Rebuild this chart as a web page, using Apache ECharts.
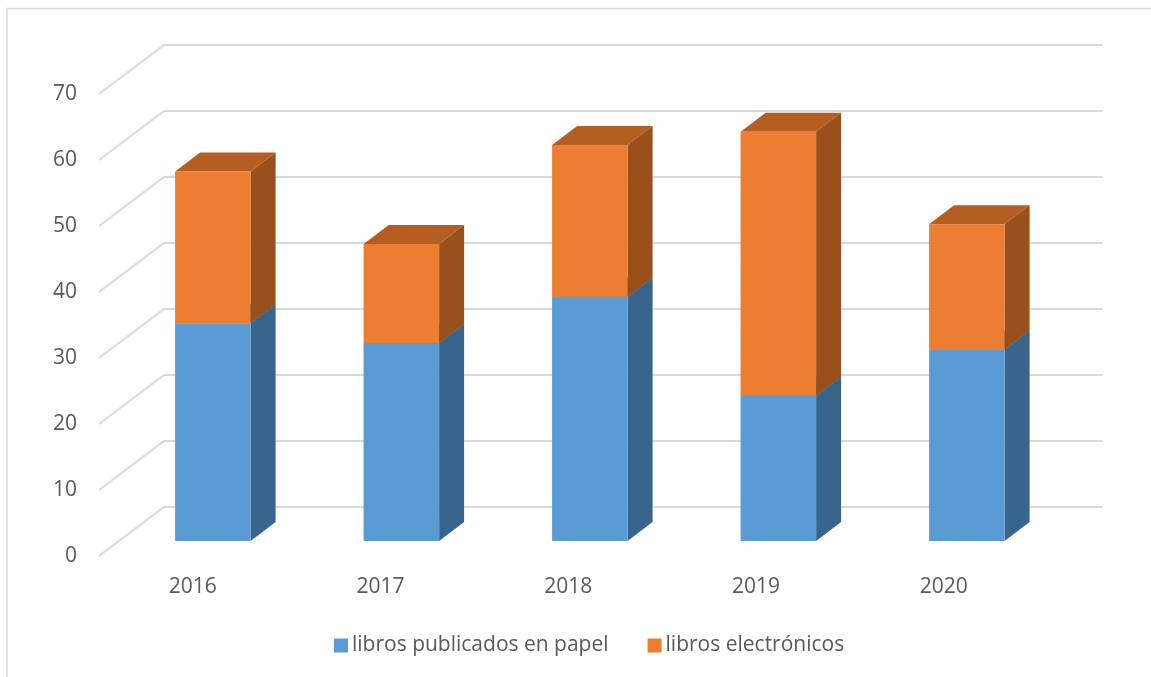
<!DOCTYPE html>
<html>
<head>
<meta charset="utf-8">
<style>html,body{margin:0;padding:0;background:#fff}#c{width:1151px;height:677px}</style>
<script src="https://cdn.jsdelivr.net/npm/echarts@6/dist/echarts.min.js"></script>
</head>
<body>
<div id="c"></div>
<script>
var years = ['2016', '2017', '2018', '2019', '2020'];
var papel = [33, 30, 37, 22, 29];
var electronicos = [23, 15, 23, 40, 19];
var ticks = [0, 10, 20, 30, 40, 50, 60, 70];
var nameA = 'libros publicados en papel';
var nameB = 'libros electrónicos';

var FONT = '"Open Sans", sans-serif';
var WALL = [65, -49], FRONT = [20, -15], DEPTH = [25, -19], BAR_W = 75.5, PERSPECTIVE = 0.8;

function barRenderer(front, top, side) {
  return function (params, api) {
    var cat = api.value(0), lo = api.coord([cat, api.value(1)]), hi = api.coord([cat, api.value(2)]);
    var x0 = lo[0] + FRONT[0] - BAR_W / 2 + cat * PERSPECTIVE, x1 = x0 + BAR_W;
    var yb = lo[1] + FRONT[1], yt = hi[1] + FRONT[1];
    var dx = DEPTH[0], dy = DEPTH[1];
    return { type: 'group', children: [
      { type: 'polygon', shape: { points: [[x0, yt], [x1, yt], [x1 + dx, yt + dy], [x0 + dx, yt + dy]] }, style: { fill: top } },
      { type: 'polygon', shape: { points: [[x1, yb], [x1 + dx, yb + dy], [x1 + dx, yt + dy], [x1, yt]] }, style: { fill: side } },
      { type: 'rect', shape: { x: x0, y: yt, width: BAR_W, height: yb - yt }, style: { fill: front } }
    ] };
  };
}

var stackA = years.map(function (y, i) { return [i, 0, papel[i]]; });
var stackB = years.map(function (y, i) { return [i, papel[i], papel[i] + electronicos[i]]; });

var chart = echarts.init(document.getElementById('c'), null, { renderer: 'canvas' });
chart.setOption({
  animation: false,
  backgroundColor: '#fff',
  textStyle: { fontFamily: FONT },
  graphic: [
    { type: 'polyline', z: -1, shape: { points: [[7, 677], [7, 8.5], [1151, 8.5]] }, style: { stroke: '#D9D9D9', lineWidth: 1.5, fill: null } }
  ],
  grid: { left: 99, right: 113.5, top: 94, bottom: 121, containLabel: false },
  legend: {
    data: [nameA, nameB],
    left: 329, top: 630, icon: 'rect', itemWidth: 14, itemHeight: 14, itemGap: 39,
    textStyle: { color: '#595959', fontSize: 21, fontFamily: FONT, padding: [0, 0, 0, -1] }
  },
  xAxis: {
    type: 'category', data: years,
    axisLine: { show: false }, axisTick: { show: false }, splitLine: { show: false },
    axisLabel: { color: '#595959', fontSize: 21, margin: 21, fontFamily: FONT }
  },
  yAxis: {
    type: 'value', min: 0, max: 70, interval: 10,
    axisLine: { show: false }, axisTick: { show: false }, splitLine: { show: false },
    axisLabel: { color: '#595959', fontSize: 21, margin: 22, fontFamily: FONT, padding: [5, 0, 0, 0] }
  },
  series: [
    {
      type: 'custom', name: 'grid', silent: true, z: 1,
      data: ticks.map(function (t) { return [t]; }),
      encode: { y: 0 },
      renderItem: function (params, api) {
        var a = api.coord([0, api.value(0)]);
        var size = api.size([1, 0])[0];
        var x = a[0] - size / 2, y = a[1];
        var xEnd = x + size * years.length + WALL[0];
        return { type: 'polyline', shape: { points: [[x, y], [x + WALL[0], y + WALL[1]], [xEnd, y + WALL[1]]] },
          style: { stroke: '#D9D9D9', lineWidth: 1.8, fill: null } };
      }
    },
    {
      type: 'custom', name: nameA, z: 2, data: stackA, encode: { x: 0, y: 2 },
      itemStyle: { color: '#5B9BD5' },
      renderItem: barRenderer('#5B9BD5', '#37658C', '#37658C')
    },
    {
      type: 'custom', name: nameB, z: 3, data: stackB, encode: { x: 0, y: 2 },
      itemStyle: { color: '#ED7D31' },
      renderItem: barRenderer('#ED7D31', '#B55E22', '#99501B')
    }
  ]
});
</script>
</body>
</html>
